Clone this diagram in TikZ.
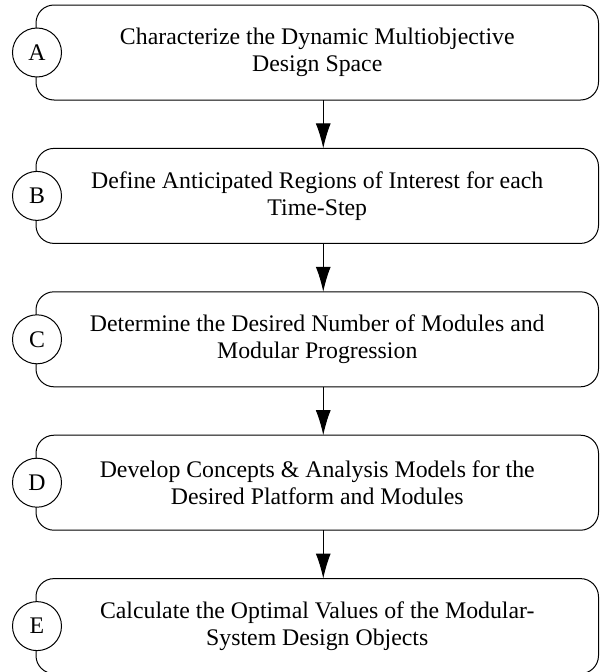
\documentclass[tikz,border=0pt]{standalone}
\usepackage{fontspec}
\setmainfont{Liberation Serif}
\usetikzlibrary{positioning,arrows.meta}

\tikzset{
  stepbox/.style={draw, line width=1pt, rounded corners=18pt, minimum width=562.5pt,
    minimum height=95pt, inner sep=0pt, outer sep=0pt, align=center,
    font=\fontsize{23.8}{27}\selectfont},
  tag/.style={draw, circle, fill=white, line width=1pt, minimum size=49pt,
    inner sep=0pt, font=\fontsize{23.8}{27}\selectfont},
  flow/.style={line width=1pt, -{Latex[length=25pt,width=15pt]}}
}

\begin{document}
\begin{tikzpicture}[x=1pt, y=1pt, node distance=48.4pt]
\useasboundingbox (0,0) rectangle (600,-672);
% the five steps
\node[stepbox] (boxA) at (317.25,-52.5) {Characterize the Dynamic Multiobjective\\Design Space};
\node[stepbox, below=of boxA] (boxB) {Define Anticipated Regions of Interest for each\\Time-Step};
\node[stepbox, below=of boxB] (boxC) {Determine the Desired Number of Modules and\\Modular Progression};
\node[stepbox, below=of boxC] (boxD) {Develop Concepts \& Analysis Models for the\\Desired Platform and Modules};
\node[stepbox, below=of boxD] (boxE) {Calculate the Optimal Values of the Modular-\\System Design Objects};
% letters
\node[tag] (tagA) at ([xshift=1pt]boxA.west) {A};
\node[tag] (tagB) at ([xshift=1pt]boxB.west) {B};
\node[tag] (tagC) at ([xshift=1pt]boxC.west) {C};
\node[tag] (tagD) at ([xshift=1pt]boxD.west) {D};
\node[tag] (tagE) at ([xshift=1pt]boxE.west) {E};
% arrows
\draw[flow] ([xshift=6pt]boxA.south) -- ([xshift=6pt]boxB.north);
\draw[flow] ([xshift=6pt]boxB.south) -- ([xshift=6pt]boxC.north);
\draw[flow] ([xshift=6pt]boxC.south) -- ([xshift=6pt]boxD.north);
\draw[flow] ([xshift=6pt]boxD.south) -- ([xshift=6pt]boxE.north);
\end{tikzpicture}
\end{document}
